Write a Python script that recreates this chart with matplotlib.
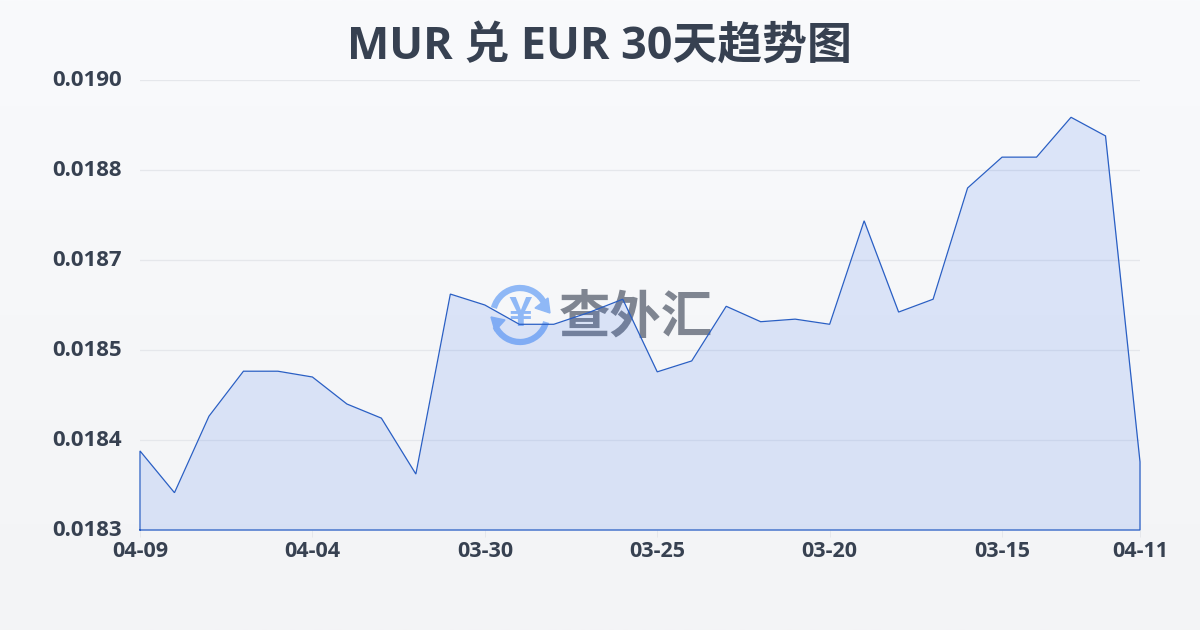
import numpy as np
import matplotlib
matplotlib.use("Agg")
import matplotlib.pyplot as plt
from matplotlib.patches import Arc, Polygon
from matplotlib.transforms import ScaledTranslation

plt.rcParams['font.family'] = ['Open Sans', 'Noto Sans CJK SC', 'DejaVu Sans']

title = "MUR 兑 EUR 30天趋势图"
# 30 daily rates, newest first (the last point is the odd 04-11 one in the source)
rates = [0.018423, 0.018358, 0.018477, 0.018547, 0.018547, 0.018538,
         0.018496, 0.018474, 0.018387, 0.018667, 0.018650, 0.018620,
         0.018620, 0.018638, 0.018659, 0.018546, 0.018563, 0.018648,
         0.018624, 0.018628, 0.018620, 0.018781, 0.018639, 0.018659,
         0.018832, 0.018880, 0.018880, 0.018942, 0.018913, 0.018406]
x_tick_pos = [0, 5, 10, 15, 20, 25, 29]
x_tick_labels = ["04-09", "04-04", "03-30", "03-25", "03-20", "03-15", "04-11"]
y_tick_labels = ["0.0183", "0.0184", "0.0185", "0.0187", "0.0188", "0.0190"]
y_min, y_max = 0.0183, 0.0190

TEXT = "#374151"
LINE = "#2a5fc4"
LOGO = "#8fb8f6"
CJK = ['Noto Sans CJK SC', 'DejaVu Sans']

fig = plt.figure(figsize=(12, 6.3), dpi=100)

# background gradient + watermark sit on a full figure axes, in pixels
bg = fig.add_axes([0, 0, 1, 1], zorder=0)
grad = np.linspace(0, 1, 256).reshape(-1, 1, 1)
top = np.array([249, 250, 252]) / 255
bottom = np.array([243, 244, 246]) / 255
bg.imshow(top + (bottom - top) * grad, aspect="auto", extent=(0, 1200, 630, 0))
bg.set_xlim(0, 1200)
bg.set_ylim(630, 0)
bg.axis("off")

bg.add_patch(Arc((520, 315), 54, 54, theta1=195, theta2=335, color=LOGO, lw=4.5))
bg.add_patch(Arc((520, 315), 54, 54, theta1=15, theta2=155, color=LOGO, lw=4.5))
bg.add_patch(Polygon([(548, 298), (550, 313), (535, 308)], color=LOGO))
bg.add_patch(Polygon([(491, 317), (505, 320), (495, 331)], color=LOGO))
bg.text(520, 314, "¥", color=LOGO, fontsize=29, fontweight="black", ha="center", va="center", family=CJK)
bg.text(636, 317, "查外汇", color="#7f8591", fontsize=37, fontweight="bold", ha="center", va="center", family=CJK)

ax = fig.add_axes([140 / 1200, 1 - 530 / 630, 1000 / 1200, 450 / 630], zorder=1)
ax.patch.set_alpha(0)
x = np.arange(len(rates))
ax.fill_between(x, rates, y_min, color="#2563eb", alpha=0.135, lw=0)
# closed outline, like the source: down the sides and along the base
ax.plot(np.r_[x[0], x, x[-1], x[0]], np.r_[y_min, rates, y_min, y_min],
        color=LINE, lw=0.9, clip_on=False, solid_joinstyle="miter")

ax.set_xlim(0, len(rates) - 1)
ax.set_ylim(y_min, y_max)
y_ticks = np.linspace(y_min, y_max, len(y_tick_labels))
ax.set_yticks(y_ticks, y_tick_labels)
ax.set_xticks(x_tick_pos, x_tick_labels)
ax.grid(axis="y", color="#e5e7eb", lw=0.9)
ax.set_axisbelow(True)
for s in ax.spines.values():
    s.set_visible(False)
ax.tick_params(axis="y", length=0, pad=13, labelsize=16, labelcolor=TEXT)
ax.tick_params(axis="x", length=5, width=0.7, color="#e5e7eb", pad=3, labelsize=15.5, labelcolor=TEXT)
for lab in ax.get_xticklabels():
    lab.set_fontweight("bold")
# y labels sit a touch above their gridlines
up = ScaledTranslation(0, 1.5 / 72, fig.dpi_scale_trans)
for lab in ax.get_yticklabels():
    lab.set_fontweight("bold")
    lab.set_transform(lab.get_transform() + up)

fig.text(599 / 1200, 1 - 47 / 630, title, color=TEXT, fontsize=32.3, fontweight="bold", ha="center", va="center")

fig.savefig("out.png", dpi=100)
